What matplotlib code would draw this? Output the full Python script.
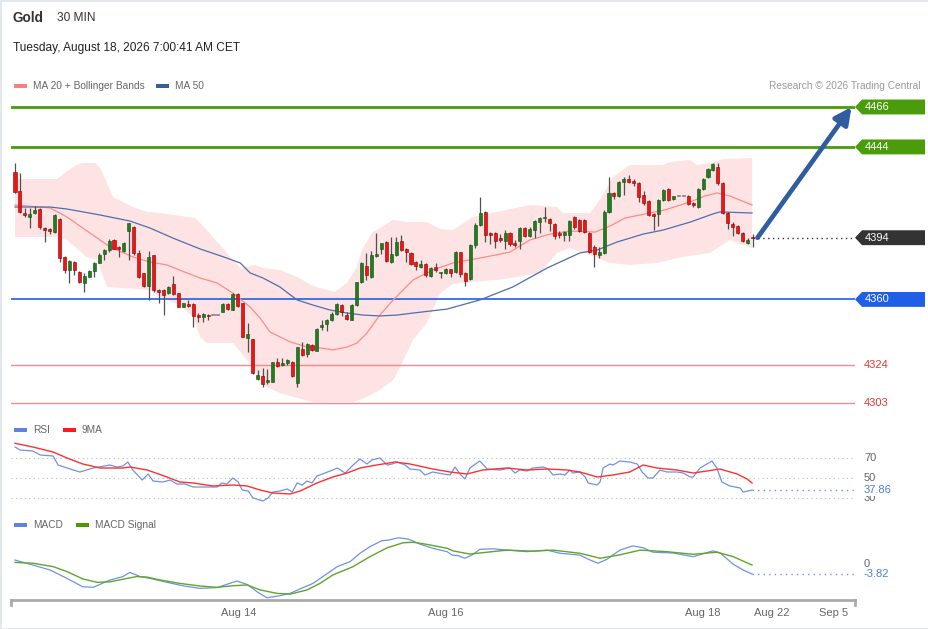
import matplotlib
matplotlib.use('Agg')
import matplotlib.pyplot as plt
import matplotlib.transforms as mtransforms
from matplotlib.patches import Polygon, Rectangle
import numpy as np

# 30 min candles, Gold
opens = [
    4430.2, 4419.7, 4407.6, 4405.4, 4407.6, 4409.8, 4399.4, 4398.8, 4397.2, 4404.3,
    4383.4, 4376.2, 4380.6, 4375.1, 4369.1, 4372.4, 4375.7, 4380.1, 4385.1, 4387.2,
    4392.7, 4388.9, 4386.7, 4397.7, 4399.9, 4385.6, 4374.6, 4367.4, 4384.5, 4365.2,
    4365.2, 4363.5, 4368.5, 4363.5, 4355.8, 4357.6, 4357.6, 4351.4, 4350.3, 4351.4,
    4351.4, 4351.4, 4353.1, 4357.6, 4354.2, 4363.0, 4358.0, 4338.8, 4338.2, 4316.2,
    4317.8, 4314.5, 4314.5, 4325.6, 4323.9, 4325.0, 4325.6, 4314.0, 4332.7, 4330.0,
    4334.9, 4331.6, 4344.8, 4346.5, 4348.7, 4352.0, 4357.1, 4351.4, 4348.7, 4357.1,
    4369.6, 4378.4, 4372.4, 4383.9, 4387.8, 4391.6, 4380.6, 4384.5, 4392.2, 4387.8,
    4385.6, 4380.6, 4377.9, 4379.5, 4372.9, 4377.9, 4374.6, 4374.6, 4376.8, 4375.1,
    4386.1, 4374.6, 4371.3, 4390.0, 4401.0, 4408.2, 4396.6, 4396.6, 4393.8, 4392.2,
    4396.6, 4391.1, 4392.2, 4399.4, 4395.0, 4398.3, 4402.7, 4404.8, 4404.3, 4401.5,
    4396.6, 4395.5, 4395.5, 4405.4, 4403.8, 4403.8, 4396.6, 4388.9, 4384.5, 4385.6,
    4408.2, 4418.6, 4417.0, 4424.7, 4426.3, 4425.2, 4424.1, 4417.5, 4414.2, 4407.1,
    4407.1, 4414.8, 4420.8, 4415.3, 4417.0, 4417.0, 4417.0, 4413.1, 4410.9, 4420.8,
    4427.4, 4431.3, 4433.0, 4424.1, 4407.6, 4401.5, 4400.4, 4396.6, 4391.1, 4394.5,
]
highs = [
    4435.2, 4429.6, 4410.4, 4410.4, 4411.5, 4410.4, 4399.9, 4399.4, 4407.1, 4404.8,
    4383.9, 4381.7, 4381.2, 4375.7, 4374.6, 4376.2, 4380.6, 4385.6, 4387.8, 4393.3,
    4393.3, 4389.4, 4391.6, 4402.1, 4400.4, 4387.2, 4374.6, 4386.7, 4384.5, 4365.7,
    4365.7, 4367.4, 4372.9, 4363.5, 4358.0, 4359.7, 4358.0, 4352.5, 4352.5, 4352.0,
    4351.4, 4351.4, 4358.0, 4358.0, 4363.5, 4363.5, 4358.0, 4347.0, 4338.2, 4321.2,
    4322.2, 4321.7, 4325.6, 4327.8, 4327.8, 4327.2, 4326.1, 4333.8, 4336.6, 4336.0,
    4335.5, 4344.3, 4348.7, 4349.2, 4353.1, 4358.0, 4357.6, 4353.1, 4357.6, 4369.6,
    4380.6, 4385.6, 4386.7, 4396.6, 4391.1, 4392.2, 4394.4, 4394.4, 4395.5, 4388.3,
    4386.1, 4381.2, 4381.7, 4380.1, 4377.9, 4380.1, 4375.1, 4377.3, 4376.8, 4386.7,
    4386.1, 4375.1, 4390.5, 4402.1, 4416.4, 4408.7, 4397.2, 4397.2, 4396.0, 4398.3,
    4397.2, 4392.7, 4399.9, 4399.9, 4399.9, 4403.8, 4405.4, 4410.9, 4404.8, 4402.1,
    4397.7, 4397.7, 4403.8, 4406.0, 4404.3, 4404.3, 4397.2, 4390.0, 4388.9, 4409.3,
    4427.4, 4419.2, 4425.2, 4427.4, 4428.5, 4426.3, 4424.7, 4419.7, 4414.8, 4407.6,
    4415.3, 4420.8, 4421.4, 4417.0, 4417.0, 4417.0, 4417.5, 4413.7, 4421.4, 4426.9,
    4432.4, 4435.2, 4435.2, 4424.7, 4408.2, 4402.7, 4401.0, 4397.2, 4393.8, 4396.0,
]
lows = [
    4418.5, 4407.6, 4405.4, 4399.4, 4407.1, 4398.8, 4391.6, 4396.1, 4396.6, 4380.6,
    4374.6, 4369.1, 4373.5, 4369.1, 4364.1, 4372.4, 4372.4, 4380.1, 4381.7, 4386.1,
    4387.8, 4383.4, 4386.1, 4381.7, 4384.5, 4371.8, 4366.9, 4359.7, 4364.1, 4358.0,
    4351.4, 4363.0, 4362.4, 4355.8, 4355.8, 4355.8, 4344.8, 4347.6, 4347.6, 4348.7,
    4351.4, 4351.4, 4353.1, 4354.2, 4354.2, 4355.8, 4339.3, 4331.1, 4319.0, 4315.7,
    4311.8, 4313.4, 4314.5, 4322.8, 4323.3, 4323.9, 4317.3, 4311.8, 4328.9, 4328.3,
    4331.6, 4331.6, 4343.2, 4342.6, 4348.1, 4351.4, 4350.9, 4348.7, 4348.7, 4356.4,
    4369.1, 4370.7, 4371.8, 4383.4, 4385.0, 4380.6, 4380.1, 4383.9, 4386.7, 4380.6,
    4379.0, 4376.2, 4377.3, 4372.4, 4372.4, 4375.1, 4371.8, 4374.0, 4372.4, 4374.6,
    4372.4, 4367.4, 4370.7, 4388.3, 4400.4, 4391.6, 4390.5, 4388.3, 4391.6, 4387.8,
    4389.4, 4388.9, 4387.8, 4394.4, 4394.4, 4393.8, 4396.6, 4402.7, 4397.7, 4393.3,
    4393.8, 4392.2, 4392.2, 4398.8, 4397.2, 4396.6, 4385.6, 4377.9, 4382.8, 4385.0,
    4407.6, 4415.3, 4416.4, 4417.5, 4424.1, 4422.5, 4413.7, 4412.0, 4406.0, 4398.3,
    4400.4, 4414.2, 4414.2, 4414.8, 4417.0, 4417.0, 4412.0, 4410.9, 4410.4, 4420.3,
    4426.9, 4430.7, 4423.0, 4407.1, 4398.8, 4395.0, 4396.1, 4391.6, 4390.5, 4389.0,
]
closes = [
    4419.2, 4408.2, 4406.5, 4407.1, 4409.3, 4399.9, 4398.3, 4397.7, 4406.5, 4382.8,
    4376.1, 4381.2, 4376.2, 4369.6, 4372.9, 4375.7, 4380.1, 4384.5, 4387.2, 4392.2,
    4387.8, 4387.8, 4391.1, 4402.1, 4385.6, 4372.4, 4367.4, 4383.4, 4365.2, 4364.1,
    4362.4, 4366.9, 4363.0, 4355.8, 4358.0, 4356.4, 4350.9, 4350.3, 4352.0, 4350.9,
    4351.4, 4351.4, 4357.6, 4354.7, 4363.0, 4356.4, 4339.3, 4341.0, 4319.5, 4318.4,
    4313.4, 4315.6, 4325.6, 4323.3, 4325.0, 4326.7, 4317.8, 4333.8, 4329.4, 4335.5,
    4332.2, 4343.7, 4345.9, 4348.7, 4352.0, 4357.6, 4353.1, 4349.2, 4357.1, 4369.6,
    4380.1, 4373.5, 4384.5, 4385.0, 4391.1, 4381.2, 4385.0, 4391.6, 4387.2, 4386.1,
    4379.5, 4378.4, 4379.5, 4373.5, 4377.3, 4376.2, 4375.1, 4376.8, 4374.6, 4386.1,
    4374.0, 4370.2, 4390.0, 4401.0, 4407.6, 4395.5, 4395.5, 4392.2, 4392.7, 4396.6,
    4390.5, 4390.0, 4399.4, 4395.0, 4398.8, 4403.2, 4404.8, 4405.4, 4402.1, 4395.0,
    4395.5, 4397.2, 4403.2, 4399.9, 4397.7, 4397.2, 4386.1, 4385.0, 4386.1, 4408.2,
    4418.6, 4417.0, 4424.7, 4426.3, 4424.7, 4424.1, 4416.4, 4413.1, 4406.5, 4406.0,
    4414.8, 4420.3, 4414.8, 4417.0, 4417.0, 4417.0, 4412.6, 4412.0, 4420.8, 4426.3,
    4431.8, 4434.6, 4424.1, 4407.6, 4402.1, 4399.9, 4396.6, 4392.2, 4392.7, 4394.0,
]

# indicator lines, read at candle positions
bb_up_idx = [0, 8.5, 10.3, 12.4, 13.5, 16.2, 17.2, 18.6, 19.8, 21.8, 23.8, 26.7, 29.3,
             36.4, 37.4, 40.0, 42.8, 45.5, 48.5, 50.1, 53.5, 57.0, 60.2, 64.6, 67.1,
             69.1, 70.1, 72.1, 73.7, 76.4, 79.2, 83.2, 85.9, 88.5, 92.5, 97.4, 104.0,
             109.5, 110.7, 116.2, 118.8, 120.8, 124.2, 130.9, 132.3, 136.4, 137.8, 140.4,
             143.0, 148.9]
bb_up = [4426.3, 4426.3, 4430.2, 4434.0, 4435.1, 4435.1, 4432.4, 4424.1, 4416.4, 4413.7,
         4410.9, 4408.2, 4407.6, 4404.8, 4402.1, 4394.4, 4385.6, 4377.3, 4379.0, 4377.3,
         4376.2, 4372.4, 4367.4, 4364.1, 4369.1, 4377.9, 4387.2, 4396.6, 4399.3, 4403.8,
         4402.6, 4402.6, 4398.8, 4398.2, 4405.4, 4408.2, 4412.0, 4410.9, 4407.6, 4407.6,
         4417.5, 4427.4, 4434.0, 4434.0, 4435.7, 4436.8, 4434.0, 4435.1, 4437.3, 4437.9]
bb_low_idx = [0, 8.5, 10.5, 14.5, 16.6, 18.6, 27.3, 29.3, 33.3, 36.0, 37.4, 38.8, 44.0,
              46.1, 48.1, 50.1, 53.5, 57.0, 60.2, 68.3, 71.1, 73.7, 76.4, 77.8, 80.4,
              83.2, 85.9, 88.5, 91.9, 97.4, 101.4, 106.1, 109.5, 112.1, 116.2, 120.2,
              124.2, 129.7, 134.9, 140.4, 144.4, 148.9]
bb_low = [4394.4, 4394.4, 4392.7, 4383.4, 4381.7, 4366.9, 4365.2, 4361.3, 4356.9, 4350.3,
          4339.3, 4336.0, 4336.0, 4329.4, 4322.2, 4312.9, 4308.5, 4305.7, 4303.5, 4303.5,
          4306.3, 4310.1, 4315.6, 4322.8, 4337.7, 4347.0, 4363.5, 4368.5, 4369.6, 4370.7,
          4372.4, 4374.6, 4385.6, 4388.3, 4384.5, 4380.1, 4379.0, 4380.1, 4383.4, 4385.6,
          4392.7, 4388.3]
ma20_idx = [0, 7.1, 10.5, 13.7, 17.2, 19.2, 23.8, 27.3, 30.7, 34.7, 37.4, 40.8, 44.0,
            47.5, 49.5, 51.5, 55.6, 59.0, 61.6, 64.2, 67.1, 69.1, 71.1, 73.7, 76.4,
            80.4, 84.4, 88.5, 93.9, 96.0, 100.0, 104.0, 108.1, 112.1, 117.2, 120.2,
            123.2, 127.3, 131.3, 136.4, 139.4, 141.8, 144.4, 148.9]
ma20 = [4412.0, 4410.4, 4405.4, 4399.3, 4392.7, 4388.9, 4383.4, 4380.6, 4379.0, 4374.6,
        4371.8, 4369.1, 4363.5, 4355.8, 4349.8, 4342.1, 4336.6, 4333.8, 4333.3, 4332.2,
        4333.8, 4336.0, 4341.5, 4351.4, 4359.7, 4370.7, 4376.2, 4380.1, 4382.8, 4383.9,
        4386.1, 4392.7, 4396.0, 4397.7, 4397.1, 4400.4, 4404.8, 4407.1, 4409.3, 4413.7,
        4417.0, 4418.6, 4417.0, 4412.0]
ma50_idx = [0, 7.1, 10.5, 17.2, 23.2, 27.3, 31.9, 37.4, 42.8, 45.5, 47.5, 50.1, 53.5,
            57.0, 60.2, 63.6, 67.1, 70.3, 73.7, 77.2, 80.4, 87.3, 93.9, 100.6, 107.5,
            114.1, 117.6, 121.6, 126.9, 130.9, 136.4, 141.0, 142.4, 148.9]
ma50 = [4410.9, 4410.9, 4409.8, 4406.5, 4403.2, 4399.3, 4393.8, 4387.8, 4382.8, 4380.1,
        4374.6, 4371.8, 4366.9, 4359.7, 4356.9, 4354.2, 4352.5, 4351.4, 4350.9, 4351.4,
        4352.5, 4354.7, 4359.7, 4366.9, 4377.3, 4385.6, 4387.2, 4391.6, 4396.0, 4398.2,
        4402.6, 4407.1, 4408.2, 4407.6]

rsi_idx = [0, 1.0, 3.6, 5.1, 7.7, 8.7, 10.5, 13.1, 15.8, 19.2, 20.6, 21.8, 22.8, 23.8,
           25.7, 26.9, 27.9, 29.9, 31.3, 32.7, 34.3, 36.0, 38.8, 40.8, 41.8, 42.8, 44.0,
           45.1, 45.9, 47.1, 48.1, 50.1, 51.1, 52.1, 53.5, 55.0, 56.0, 57.0, 58.0, 59.0,
           60.0, 61.0, 62.6, 64.2, 65.1, 66.7, 68.3, 69.7, 71.1, 72.1, 73.7, 75.2, 76.2,
           77.2, 78.8, 79.8, 81.8, 82.8, 84.4, 86.5, 87.9, 88.9, 89.9, 90.9, 91.9, 93.9,
           95.4, 98.0, 100.0, 101.0, 102.0, 103.4, 104.6, 106.7, 107.7, 108.7, 110.1,
           111.1, 112.1, 112.7, 114.1, 115.2, 115.8, 117.6, 118.2, 118.8, 120.2, 120.8,
           122.2, 124.2, 125.7, 126.7, 127.9, 128.9, 130.3, 131.7, 133.7, 135.0, 136.4,
           137.0, 138.4, 140.8, 141.8, 142.8, 144.4, 146.5, 147.1, 148.9]
rsi = [81, 78, 77, 73, 72, 63, 60, 56, 60, 63, 61, 62, 66, 58, 48, 54, 47, 46, 48, 44,
       44, 41, 41, 41, 45, 44, 50, 46, 38, 37, 30, 27, 30, 36, 37, 39, 36, 45, 43, 47,
       45, 52, 55, 58, 60, 55, 63, 69, 64, 68, 70, 63, 64, 66, 63, 59, 58, 53, 56, 54,
       53, 61, 54, 49, 60, 67, 59, 58, 60, 55, 58, 57, 60, 61, 59, 53, 54, 53, 58, 55,
       56, 51, 45, 43, 46, 60, 64, 63, 67, 66, 64, 56, 50, 50, 58, 56, 56, 55, 51, 51,
       60, 67, 60, 46, 42, 40, 36, 37.86]
rsi_ma_idx = [0, 3.6, 7.7, 10.5, 13.7, 17.2, 21.8, 23.2, 26.7, 30.7, 33.3, 36.0, 40.0,
              44.0, 46.9, 49.5, 52.1, 55.6, 57.6, 61.0, 64.2, 67.1, 69.7, 73.1, 76.8,
              79.8, 84.4, 87.9, 91.3, 94.5, 99.4, 103.4, 107.5, 111.5, 114.1, 117.6,
              120.8, 124.2, 126.9, 129.7, 133.7, 137.0, 139.8, 142.4, 145.9, 147.9, 148.9]
rsi_ma = [84.7, 81, 76, 70, 64, 60, 60, 61, 58, 51, 46, 45, 42, 43, 42, 38, 35, 34, 37,
          45, 51, 55, 60, 63, 66, 64, 59, 56, 54, 58, 60, 58, 59, 58, 56, 51, 53, 56, 63,
          60, 58, 55, 57, 59, 54, 49, 45]

macd_idx = [0, 3.6, 7.1, 10.5, 13.7, 15.8, 19.2, 21.8, 23.2, 25.3, 27.3, 30.7, 33.9,
            37.4, 40.8, 44.8, 46.9, 48.9, 50.9, 53.5, 55.6, 57.6, 60.2, 62.2, 65.1,
            67.7, 69.7, 71.7, 74.1, 75.4, 77.4, 79.2, 80.4, 81.8, 84.4, 87.3, 88.3,
            89.5, 90.9, 92.3, 93.9, 96.6, 99.4, 103.4, 107.5, 110.1, 114.1, 116.2,
            117.8, 119.6, 122.2, 124.8, 126.9, 128.9, 132.9, 137.0, 141.0, 142.4,
            145.1, 147.1, 148.9]
macd = [1.5, -0.4, -2.3, -5.5, -8.7, -8.9, -6.1, -4.8, -3.2, -4.8, -5.5, -7.0, -8.3,
        -9.3, -9.0, -6.5, -7.8, -10.6, -12.9, -12.1, -11.2, -9.5, -7.4, -4.8, -1.0,
        0.9, 4.1, 6.6, 8.9, 9.1, 10.0, 9.6, 8.8, 7.6, 6.0, 4.7, 3.4, 3.2, 2.2, 3.4,
        5.6, 5.8, 5.3, 4.7, 5.3, 4.1, 3.4, 1.5, 0.3, 1.8, 5.3, 6.9, 6.2, 4.5, 4.2,
        2.8, 5.0, 4.3, -0.1, -2.3, -3.82]
signal_idx = [0, 3.6, 7.7, 10.5, 13.7, 16.6, 19.2, 21.8, 24.6, 26.7, 29.3, 33.3, 37.4,
              40.8, 44.0, 46.9, 49.5, 52.9, 55.6, 59.0, 61.6, 64.2, 68.3, 71.7, 75.2,
              78.4, 80.4, 83.2, 87.3, 88.5, 91.9, 95.4, 99.4, 104.6, 108.7, 114.1,
              118.2, 122.2, 126.3, 131.7, 137.0, 141.8, 145.1, 148.9]
signal = [0.6, 0.3, -1.0, -2.9, -5.7, -7.0, -6.8, -5.8, -4.8, -5.0, -6.1, -7.4, -8.4,
          -8.9, -8.3, -8.0, -9.9, -11.2, -11.5, -9.9, -7.4, -4.2, -1.0, 2.8, 6.2, 8.1,
          8.3, 7.5, 6.0, 5.0, 3.8, 4.5, 5.3, 4.9, 5.3, 4.1, 2.2, 3.5, 5.3, 4.7, 3.7,
          4.5, 2.8, -0.4]

# key levels
resistances = [4466, 4444]
support = 4360
minor_supports = [4324, 4303]
target = 4466

xtick_pos = [45.1, 87.1, 139.0, 152.9, 165.3]
xtick_labels = ['Aug 14', 'Aug 16', 'Aug 18', 'Aug 22', 'Sep 5']

W, H = 929, 629
XMIN, XMAX = -0.81, 169.7
GREEN_LVL = '#4a9c0a'
BLUE_LVL = '#1f5fe8'
PINK_LVL = '#f08c8c'
GREY_TXT = '#666666'
RSI_BLUE = '#7092e4'

plt.rcParams['font.family'] = ['Liberation Sans', 'DejaVu Sans']
fig = plt.figure(figsize=(W / 100, H / 100), dpi=100)


def px_axes(x0, y0, x1, y1):
    return fig.add_axes([x0 / W, 1 - y1 / H, (x1 - x0) / W, (y1 - y0) / H])


ax = px_axes(11, 95, 855, 412)
ax_rsi = px_axes(11, 440, 855, 508)
ax_macd = px_axes(11, 528, 855, 600)
for a in (ax, ax_rsi, ax_macd):
    a.set_xticks([])
    a.set_yticks([])
    for s in a.spines.values():
        s.set_visible(False)
    a.patch.set_alpha(0)


def right_tr(a):
    return mtransforms.blended_transform_factory(fig.transFigure, a.transData)


# ---- price panel ----
o = np.array(opens)
h = np.array(highs)
l = np.array(lows)
c = np.array(closes)
idx = np.arange(len(c))

ax.fill(np.concatenate([bb_up_idx, bb_low_idx[::-1]]),
        np.concatenate([bb_up, bb_low[::-1]]),
        color='#fde3e3', lw=0, zorder=1)

for lv in resistances:
    ax.axhline(lv, color=GREEN_LVL, lw=2, zorder=2)
ax.axhline(support, color=BLUE_LVL, lw=1.2, zorder=2)
for lv in minor_supports:
    ax.axhline(lv, color=PINK_LVL, lw=1, zorder=2)

ax.plot(ma20_idx, ma20, color='#ff8a8a', lw=0.9, zorder=3)
ax.plot(ma50_idx, ma50, color='#4d6fae', lw=0.9, zorder=3)

ax.vlines(idx, l, h, color='#505050', lw=0.9, zorder=4)
body = np.abs(c - o)
up = c > o
doji = body < 0.3
col = np.where(up, '#1f7d1f', '#f01414')
edge = np.where(up, '#124d12', '#8c0000')
col = np.where(doji, '#777777', col)
edge = np.where(doji, '#777777', edge)
ax.bar(idx, np.maximum(body, 0.5), bottom=np.minimum(o, c), width=0.62,
       color=col, edgecolor=edge, lw=0.4, zorder=5)

# last price dotted line
ax.hlines(c[-1], idx[-1], XMAX, color='#333333', lw=1, linestyles=(0, (1, 2.5)), zorder=3)

# arrow to target
ax.annotate('', xy=(169, target), xytext=(len(c), c[-1]),
            arrowprops=dict(arrowstyle='-|>,head_length=1.0,head_width=0.5',
                            color='#2f5d9f', lw=3.4, shrinkA=0, shrinkB=0),
            zorder=6, annotation_clip=False)


def tag(a, y, text, color, half=4.1):
    tr = right_tr(a)
    pts = [[855 / W, y], [862 / W, y + half], [925 / W, y + half],
           [925 / W, y - half], [862 / W, y - half]]
    a.add_patch(Polygon(pts, closed=True, transform=tr, facecolor=color,
                        edgecolor='none', clip_on=False))
    a.text(865 / W, y, text, transform=tr, color='white', fontsize=8,
           va='center', ha='left', clip_on=False)


for lv in resistances:
    tag(ax, lv, f'{lv}', GREEN_LVL)
tag(ax, c[-1], f'{c[-1]:.0f}', '#333333')
tag(ax, support, f'{support}', BLUE_LVL)
for lv in minor_supports:
    ax.text(864 / W, lv, f'{lv}', transform=right_tr(ax), color='#e53935',
            fontsize=8, va='center', ha='left')

ax.set_xlim(XMIN, XMAX)
ax.set_ylim(4298.0, 4472.6)

# ---- RSI panel ----
for lv in (70, 50, 30):
    ax_rsi.axhline(lv, color='#bbbbbb', lw=0.8, linestyle=(0, (1, 3)))
ax_rsi.plot(rsi_idx, rsi, color=RSI_BLUE, lw=0.9)
ax_rsi.plot(rsi_ma_idx, rsi_ma, color='#ff3030', lw=1)
ax_rsi.hlines(rsi[-1], rsi_idx[-1], XMAX, color=RSI_BLUE, lw=1, linestyles=(0, (1, 3)))
for lv in (70, 50):
    ax_rsi.text(864 / W, lv, f'{lv}', transform=right_tr(ax_rsi), color=GREY_TXT,
                fontsize=8, va='center', ha='left')
# the 30 label sits partly under the live RSI value, as in the source chart
ax_rsi.text(864 / W, 30, '30', transform=right_tr(ax_rsi), color=GREY_TXT,
            fontsize=8, va='center', ha='left')
ax_rsi.text(864 / W, rsi[-1], f'{rsi[-1]:.2f}', transform=right_tr(ax_rsi),
            color='#4f7ee0', fontsize=8, va='center', ha='left', zorder=5,
            bbox=dict(facecolor='white', edgecolor='none', pad=0.6))
ax_rsi.set_xlim(XMIN, XMAX)
ax_rsi.set_ylim(20, 88)

# ---- MACD panel ----
ax_macd.plot(macd_idx, macd, color=RSI_BLUE, lw=0.9)
ax_macd.plot(signal_idx, signal, color='#5fa52a', lw=1)
ax_macd.hlines(macd[-1], macd_idx[-1], XMAX, color=RSI_BLUE, lw=1, linestyles=(0, (1, 3)))
ax_macd.text(864 / W, 0, '0', transform=right_tr(ax_macd), color=GREY_TXT,
             fontsize=8, va='center', ha='left')
ax_macd.text(864 / W, macd[-1], f'{macd[-1]:.2f}', transform=right_tr(ax_macd),
             color='#4f7ee0', fontsize=8, va='center', ha='left')
ax_macd.spines['bottom'].set_visible(True)
ax_macd.spines['bottom'].set_color('#aaaaaa')
ax_macd.spines['bottom'].set_linewidth(2)
for xe in (0, 1):
    ax_macd.plot([xe, xe], [0, -0.07], transform=ax_macd.transAxes, color='#aaaaaa',
                 lw=2, clip_on=False)
xt = mtransforms.blended_transform_factory(ax_macd.transData, fig.transFigure)
for p, lab in zip(xtick_pos, xtick_labels):
    ax_macd.text(p, 1 - 613 / H, lab, transform=xt, ha='center', va='center',
                 fontsize=8, color=GREY_TXT)
ax_macd.set_xlim(XMIN, XMAX)
ax_macd.set_ylim(-13.74, 13.74)


# ---- header and legends ----
def ftext(x, y, s, **kw):
    fig.text(x / W, 1 - y / H, s, va='center', **kw)


def legend_item(x, y, color, label):
    fig.patches.append(Rectangle((x / W, 1 - (y + 2) / H), 13 / W, 4 / H,
                                 transform=fig.transFigure, facecolor=color,
                                 edgecolor='none'))
    ftext(x + 19, y, label, fontsize=7.3, color=GREY_TXT)


ftext(13, 18, 'Gold', fontsize=9.8, fontweight='bold', color='#333333')
ftext(57, 18, '30 MIN', fontsize=8.6, color='#333333')
ftext(13, 48, 'Tuesday, August 18, 2026 7:00:41 AM CET', fontsize=8.6, color='#222222')
legend_item(14, 86, '#ff7f7f', 'MA 20 + Bollinger Bands')
legend_item(156, 86, '#3a5d9c', 'MA 50')
fig.text(921 / W, 1 - 86 / H, 'Research \u00a9 2026 Trading Central', va='center',
         ha='right', fontsize=7.3, color='#9a9a9a')
legend_item(14, 430, '#5b84e0', 'RSI')
legend_item(63, 430, '#ff1a1a', '9MA')
legend_item(14, 525, '#5b84e0', 'MACD')
legend_item(76, 525, '#4c9a00', 'MACD Signal')

fig.patches.append(Rectangle((0, 0), 1, 1, transform=fig.transFigure, fill=False,
                             edgecolor='#e2e7ed', lw=2))

fig.savefig('out.png', dpi=100)
